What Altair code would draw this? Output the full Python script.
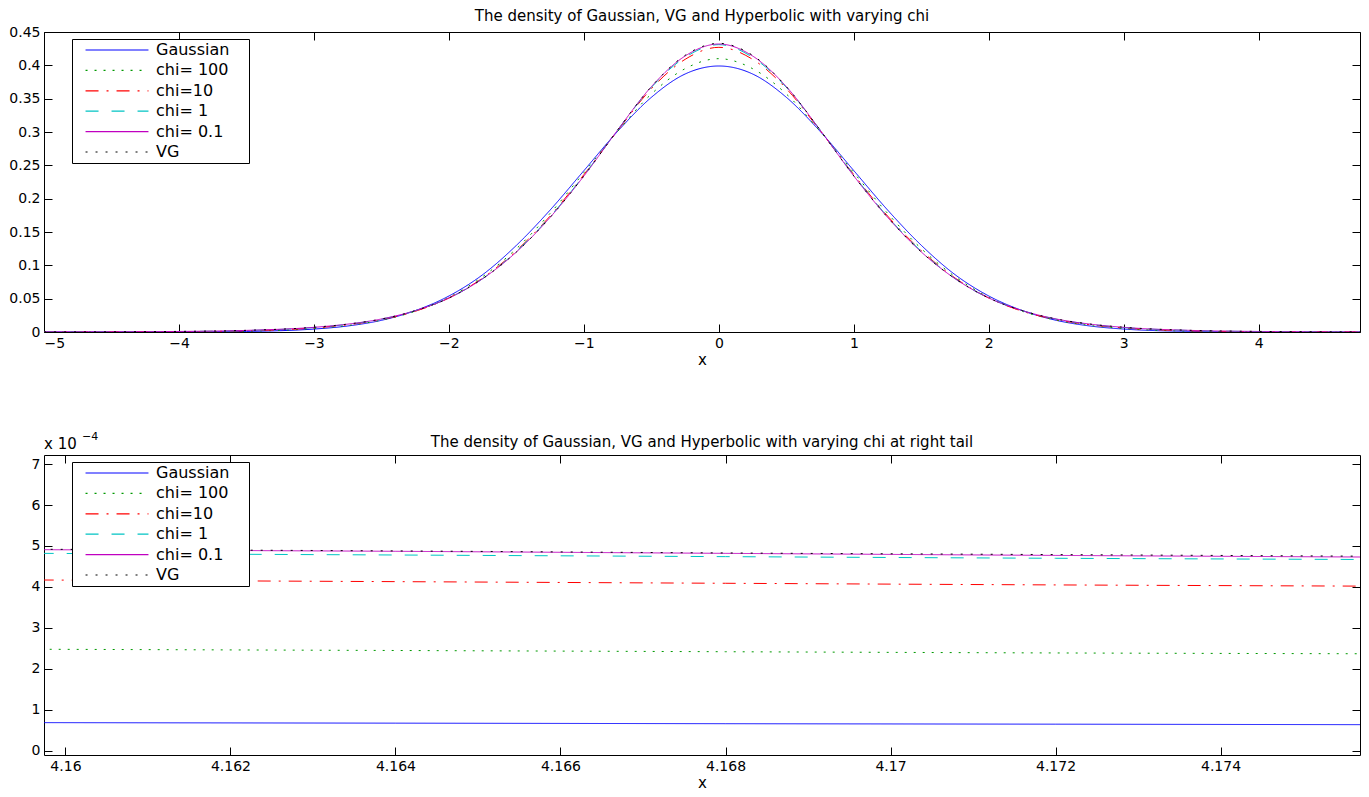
import altair as alt
import pandas as pd

FONT = "DejaVu Sans"

SERIES = ["Gaussian", "chi= 100", "chi=10", "chi= 1", "chi= 0.1", "VG"]
COLORS = ["#0000ff", "#009900", "#ff0000", "#00c4c4", "#c000c0", "#000000"]
DASHES = [[1, 0], [2, 7], [13, 8, 2, 8], [13, 13], [1, 0], [2, 8]]

# ---- top panel: full densities ----
X_FULL = [-5, -4.5, -4, -3.5, -3, -2.75, -2.5, -2.25, -2, -1.75, -1.5, -1.25, -1,
          -0.75, -0.5, -0.25, 0, 0.25, 0.5, 0.75, 1, 1.25, 1.5, 1.75, 2, 2.25,
          2.5, 2.75, 3, 3.5, 4, 4.5, 5]
GAUSS = [0.0, 0.0, 0.0001, 0.0009, 0.0044, 0.009, 0.0175, 0.032, 0.054, 0.086, 0.130,
         0.183, 0.242, 0.301, 0.352, 0.387, 0.399, 0.387, 0.352, 0.301, 0.242, 0.183,
         0.130, 0.086, 0.054, 0.032, 0.0175, 0.009, 0.0044, 0.0009, 0.0001, 0.0, 0.0]
CHI100 = [0.0, 0.0001, 0.0003, 0.0013, 0.0052, 0.0098, 0.0178, 0.031, 0.052, 0.083, 0.125,
          0.178, 0.239, 0.301, 0.357, 0.395, 0.410, 0.395, 0.357, 0.301, 0.239, 0.178,
          0.125, 0.083, 0.052, 0.031, 0.0178, 0.0098, 0.0052, 0.0013, 0.0003, 0.0001, 0.0]
CHI10 = [0.0, 0.0001, 0.0005, 0.0018, 0.0061, 0.0108, 0.0186, 0.031, 0.051, 0.081, 0.122,
         0.174, 0.236, 0.302, 0.365, 0.409, 0.427, 0.409, 0.365, 0.302, 0.236, 0.174,
         0.122, 0.081, 0.051, 0.031, 0.0186, 0.0108, 0.0061, 0.0018, 0.0005, 0.0001, 0.0]
CHI1 = [0.0001, 0.0002, 0.0007, 0.0022, 0.0067, 0.0115, 0.0192, 0.032, 0.051, 0.080, 0.121,
        0.173, 0.235, 0.303, 0.367, 0.412, 0.431, 0.412, 0.367, 0.303, 0.235, 0.173,
        0.121, 0.080, 0.051, 0.032, 0.0192, 0.0115, 0.0067, 0.0022, 0.0007, 0.0002, 0.0001]
CHI01 = [0.0001, 0.0003, 0.0008, 0.0024, 0.0070, 0.0118, 0.0195, 0.032, 0.051, 0.080, 0.120,
         0.172, 0.234, 0.303, 0.368, 0.414, 0.432, 0.414, 0.368, 0.303, 0.234, 0.172,
         0.120, 0.080, 0.051, 0.032, 0.0195, 0.0118, 0.0070, 0.0024, 0.0008, 0.0003, 0.0001]
VG = [0.0001, 0.0003, 0.0009, 0.0025, 0.0071, 0.0119, 0.0195, 0.032, 0.051, 0.080, 0.120,
      0.172, 0.234, 0.303, 0.368, 0.415, 0.433, 0.415, 0.368, 0.303, 0.234, 0.172,
      0.120, 0.080, 0.051, 0.032, 0.0195, 0.0119, 0.0071, 0.0025, 0.0009, 0.0003, 0.0001]

TOP_X_TICKS = [-5, -4, -3, -2, -1, 0, 1, 2, 3, 4]
TOP_Y_TICKS = [0, 0.05, 0.1, 0.15, 0.2, 0.25, 0.3, 0.35, 0.4, 0.45]

# ---- bottom panel: right tail (values in units of 1e-4) ----
X_TAIL = [4.1597, 4.164, 4.168, 4.172, 4.1758]
T_GAUSS = [0.69, 0.677, 0.664, 0.652, 0.64]
T_CHI100 = [2.48, 2.45, 2.42, 2.39, 2.37]
T_CHI10 = [4.17, 4.13, 4.09, 4.05, 4.02]
T_CHI1 = [4.82, 4.78, 4.74, 4.70, 4.67]
T_CHI01 = [4.91, 4.87, 4.82, 4.77, 4.73]
T_VG = [4.92, 4.88, 4.83, 4.79, 4.75]

BOT_X_TICKS = [4.16, 4.162, 4.164, 4.166, 4.168, 4.17, 4.172, 4.174]
BOT_Y_TICKS = [0, 1, 2, 3, 4, 5, 6, 7]


def long_df(xs, cols):
    rows = []
    for name, vals in zip(SERIES, cols):
        for x, y in zip(xs, vals):
            rows.append({"x": x, "y": y, "series": name})
    return pd.DataFrame(rows)


df_top = long_df(X_FULL, [GAUSS, CHI100, CHI10, CHI1, CHI01, VG])
df_bot = long_df(X_TAIL, [T_GAUSS, T_CHI100, T_CHI10, T_CHI1, T_CHI01, T_VG])


def legend():
    return alt.Legend(
        title=None, orient="none", legendX=28, legendY=7, direction="vertical",
        symbolType="M-6,0H6", symbolSize=110, symbolStrokeWidth=1.2, symbolOffset=34,
        labelFont=FONT, labelFontSize=16, labelColor="black", labelOffset=31,
        rowPadding=4.4, padding=3, strokeColor="black", fillColor="white",
        labelExpr="datum.label + '\u2005\u2800'",
    )


def panel(df, x_dom, y_dom, x_ticks, y_ticks, x_fmt, y_fmt, title, title_offset, extra=None):
    xs = alt.Scale(domain=x_dom, nice=False, zero=False)
    ys = alt.Scale(domain=y_dom, nice=False, zero=False)
    lines = alt.Chart(df).mark_line(strokeWidth=1, clip=True, interpolate="monotone").encode(
        x=alt.X("x:Q", scale=xs, axis=alt.Axis(
            orient="bottom", values=x_ticks, format=x_fmt, title="x", offset=-8,
            tickSize=8, labelPadding=4, domain=False, grid=False, titlePadding=2)),
        y=alt.Y("y:Q", scale=ys, axis=alt.Axis(
            orient="left", values=y_ticks, format=y_fmt, title=None, offset=-8,
            tickSize=8, labelPadding=4, domain=False, grid=False)),
        color=alt.Color("series:N", scale=alt.Scale(domain=SERIES, range=COLORS), legend=legend()),
        strokeDash=alt.StrokeDash("series:N", scale=alt.Scale(domain=SERIES, range=DASHES), legend=legend()),
    )
    ticks = alt.Chart(df).mark_line(opacity=0, clip=True).encode(
        x=alt.X("x:Q", scale=xs, axis=alt.Axis(
            orient="top", values=x_ticks, labels=False, title=None, offset=-8,
            tickSize=8, domain=False, grid=False)),
        y=alt.Y("y:Q", scale=ys, axis=alt.Axis(
            orient="right", values=y_ticks, labels=False, title=None, offset=-8,
            tickSize=8, domain=False, grid=False)),
        detail="series:N",
    )
    layers = [lines, ticks] + (extra or [])
    return alt.layer(*layers).resolve_axis(x="independent", y="independent").properties(
        width=1316, height=300,
        title=alt.TitleParams(title, font=FONT, fontSize=15, fontWeight="normal",
                              color="black", anchor="middle", offset=title_offset),
    )


top = panel(df_top, [-5, 4.75], [0, 0.45], TOP_X_TICKS, TOP_Y_TICKS, "d", "~g",
            "The density of Gaussian, VG and Hyperbolic with varying chi", 1)

ann_main = alt.Chart(pd.DataFrame({"t": ["x 10"]})).mark_text(
    align="left", baseline="middle", font=FONT, fontSize=15, color="black"
).encode(x=alt.value(0), y=alt.value(-11), text="t:N")
ann_exp = alt.Chart(pd.DataFrame({"t": ["\u22124"]})).mark_text(
    align="left", baseline="middle", font=FONT, fontSize=11, color="black"
).encode(x=alt.value(38), y=alt.value(-18), text="t:N")

bottom = panel(df_bot, [4.15974, 4.17569], [-0.1, 7.22], BOT_X_TICKS, BOT_Y_TICKS, ".4~g", "d",
               "The density of Gaussian, VG and Hyperbolic with varying chi at right tail", -19,
               extra=[ann_main, ann_exp])

chart = alt.vconcat(top, bottom, spacing=62).resolve_scale(
    color="independent", strokeDash="independent"
).resolve_legend(
    color="independent", strokeDash="independent"
).properties(padding=0).configure_view(
    stroke="black", strokeWidth=1
).configure_axis(
    labelFont=FONT, labelFontSize=14, labelColor="black", titleFont=FONT, titleFontSize=15,
    titleFontWeight="normal", titleColor="black", tickColor="black", tickWidth=1
)

chart.save("out.html", embed_options={"renderer": "svg", "actions": False})
